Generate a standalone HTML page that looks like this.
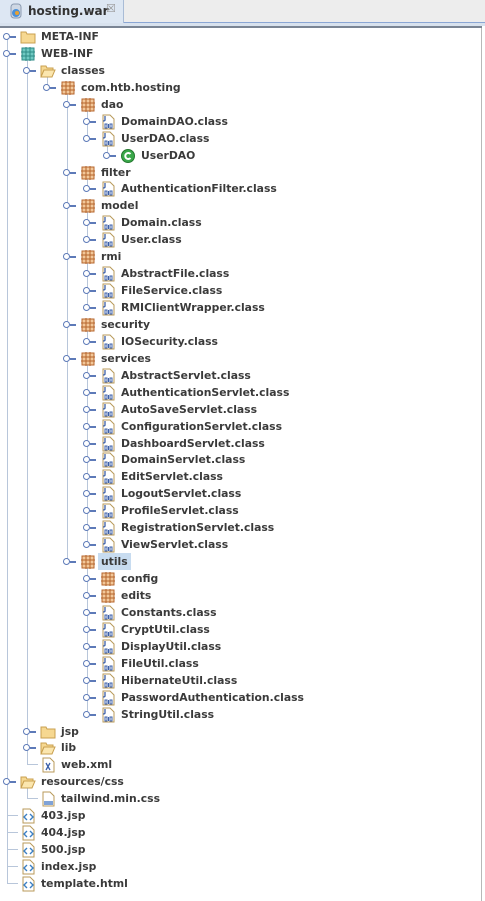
<!DOCTYPE html>
<html><head><meta charset="utf-8"><style>
body{margin:0;width:485px;height:901px;background:#fff;position:relative;overflow:hidden;font-family:"DejaVu Sans","Liberation Sans",sans-serif;}
.hdr{position:absolute;left:0;top:0;width:485px;height:22px;background:#ededed}
.tab{position:absolute;left:0;top:0;width:124px;height:23px;background:#dde7f3;border-right:1px solid #a9bcd6;box-sizing:border-box}
.tab span{position:absolute;left:28px;top:4px;font-size:12px;font-weight:bold;color:#333}
.r{position:absolute;height:17px;font-size:10.8px;font-weight:bold;color:#3a3a3a;line-height:17px;white-space:nowrap}
.r svg.i{position:absolute;left:0;top:1px;width:16px;height:16px}
.r b{position:absolute;left:21px;top:0;font-weight:bold}
.h{position:absolute;left:-17px;top:5px;width:5px;height:5px;border:1.5px solid #5d7ab8;border-radius:50%;background:#fff}
.h:after{content:"";position:absolute;left:6px;top:1.5px;width:6px;height:2px;background:#5d7ab8}
.c{position:absolute;left:-13px;top:8px;width:11px;height:1px;background:#b8c6da}
.v{position:absolute;width:1px;background:#b8c6da}
</style></head><body>
<svg width="0" height="0" style="position:absolute">
<defs>
<symbol id="fo" viewBox="0 0 16 16"><path d="M1 3h5l1 2h8v9H1z" fill="#f6d891" stroke="#c9a050"/></symbol>
<symbol id="fop" viewBox="0 0 16 16"><path d="M1 3h5l1 2h6v2H4L1 14z" fill="#f6d891" stroke="#c9a050"/><path d="M4 7h11l-3 7H1z" fill="#fbe6ae" stroke="#c9a050"/></symbol>
<symbol id="pk" viewBox="0 0 16 16"><rect x="2" y="2" width="12" height="12" fill="#f2c89a" stroke="#b5652c"/><path d="M6 1v14M10 1v14M1 6h14M1 10h14" stroke="#b5652c"/></symbol>
<symbol id="wi" viewBox="0 0 16 16"><rect x="2" y="2" width="12" height="12" fill="#6fc9c2" stroke="#2d8a85"/><path d="M6 1v14M10 1v14M1 6h14M1 10h14" stroke="#2d8a85"/></symbol>
<symbol id="cl" viewBox="0 0 16 16"><path d="M3 1h7l4 4v10H3z" fill="#fff" stroke="#b89a5a"/><path d="M5 2v4q0 1-2 1" stroke="#3b5fa8" fill="none" stroke-width="1.3"/><rect x="5" y="10" width="2" height="4" fill="none" stroke="#3b5fa8"/><rect x="8" y="10" width="1" height="4" fill="#3b5fa8"/><rect x="10" y="10" width="2" height="4" fill="none" stroke="#3b5fa8"/></symbol>
<symbol id="gc" viewBox="0 0 16 16"><circle cx="8" cy="8" r="6.5" fill="#3aa84a" stroke="#24792f"/><path d="M10.5 6a3 3 0 1 0 0 4" stroke="#fff" stroke-width="2" fill="none"/></symbol>
<symbol id="js" viewBox="0 0 16 16"><path d="M3 1h7l4 4v10H3z" fill="#fff" stroke="#b89a5a"/><path d="M7 6l-3 3 3 3M10 6l3 3-3 3" stroke="#3b7fc4" stroke-width="1.4" fill="none"/></symbol>
<symbol id="cs" viewBox="0 0 16 16"><path d="M3 1h7l4 4v10H3z" fill="#fff" stroke="#b89a5a"/><rect x="4" y="10" width="9" height="4" fill="#7fa2d6"/></symbol>
<symbol id="xm" viewBox="0 0 16 16"><path d="M3 1h7l4 4v10H3z" fill="#fff" stroke="#b89a5a"/><path d="M6 6l4 7M10 6l-4 7" stroke="#3b5fa8" stroke-width="1.3"/></symbol>
<symbol id="wa" viewBox="0 0 16 16"><rect x="3" y="1" width="10" height="14" rx="3" fill="#cfd8e4" stroke="#8a9ab0"/><circle cx="8" cy="10" r="4" fill="#4a90d8"/><circle cx="9" cy="10" r="2" fill="#e8a030"/></symbol>
</defs></svg>
<div class="hdr"></div>
<div style="position:absolute;left:0;top:22px;width:485px;height:1px;background:#8aa6d4"></div>
<div style="position:absolute;left:0;top:23px;width:485px;height:3px;background:#d8e2ee"></div>
<div style="position:absolute;left:0;top:26px;width:482px;height:2px;background:#7a8594"></div>
<div style="position:absolute;left:481px;top:28px;width:1px;height:873px;background:#b8b8b8"></div>
<div class="tab"><svg style="position:absolute;left:8px;top:3px;width:16px;height:16px"><use href="#wa"/></svg><span>hosting.war</span><span style="left:106px;top:2px;color:#999;font-weight:normal;font-size:11px">☒</span></div>

<div class="v" style="left:7px;top:36px;height:848px"></div>
<div class="v" style="left:27px;top:53px;height:712px"></div>
<div class="v" style="left:47px;top:70px;height:17px"></div>
<div class="v" style="left:67px;top:87px;height:474px"></div>
<div class="v" style="left:87px;top:104px;height:34px"></div>
<div class="v" style="left:107px;top:138px;height:17px"></div>
<div class="v" style="left:87px;top:172px;height:17px"></div>
<div class="v" style="left:87px;top:205px;height:34px"></div>
<div class="v" style="left:87px;top:256px;height:51px"></div>
<div class="v" style="left:87px;top:324px;height:17px"></div>
<div class="v" style="left:87px;top:358px;height:186px"></div>
<div class="v" style="left:87px;top:561px;height:153px"></div>
<div class="v" style="left:27px;top:781px;height:17px"></div>

<div class="r" style="top:28px;left:20px"><i class="h"></i><svg class="i"><use href="#fo"/></svg><b>META-INF</b></div>
<div class="r" style="top:45px;left:20px"><i class="h"></i><svg class="i"><use href="#wi"/></svg><b>WEB-INF</b></div>
<div class="r" style="top:62px;left:40px"><i class="h"></i><svg class="i"><use href="#fop"/></svg><b>classes</b></div>
<div class="r" style="top:79px;left:60px"><i class="h"></i><svg class="i"><use href="#pk"/></svg><b>com.htb.hosting</b></div>
<div class="r" style="top:96px;left:80px"><i class="h"></i><svg class="i"><use href="#pk"/></svg><b>dao</b></div>
<div class="r" style="top:113px;left:100px"><i class="h"></i><svg class="i"><use href="#cl"/></svg><b>DomainDAO.class</b></div>
<div class="r" style="top:130px;left:100px"><i class="h"></i><svg class="i"><use href="#cl"/></svg><b>UserDAO.class</b></div>
<div class="r" style="top:147px;left:120px"><i class="h"></i><svg class="i"><use href="#gc"/></svg><b>UserDAO</b></div>
<div class="r" style="top:164px;left:80px"><i class="h"></i><svg class="i"><use href="#pk"/></svg><b>filter</b></div>
<div class="r" style="top:180px;left:100px"><i class="h"></i><svg class="i"><use href="#cl"/></svg><b>AuthenticationFilter.class</b></div>
<div class="r" style="top:197px;left:80px"><i class="h"></i><svg class="i"><use href="#pk"/></svg><b>model</b></div>
<div class="r" style="top:214px;left:100px"><i class="h"></i><svg class="i"><use href="#cl"/></svg><b>Domain.class</b></div>
<div class="r" style="top:231px;left:100px"><i class="h"></i><svg class="i"><use href="#cl"/></svg><b>User.class</b></div>
<div class="r" style="top:248px;left:80px"><i class="h"></i><svg class="i"><use href="#pk"/></svg><b>rmi</b></div>
<div class="r" style="top:265px;left:100px"><i class="h"></i><svg class="i"><use href="#cl"/></svg><b>AbstractFile.class</b></div>
<div class="r" style="top:282px;left:100px"><i class="h"></i><svg class="i"><use href="#cl"/></svg><b>FileService.class</b></div>
<div class="r" style="top:299px;left:100px"><i class="h"></i><svg class="i"><use href="#cl"/></svg><b>RMIClientWrapper.class</b></div>
<div class="r" style="top:316px;left:80px"><i class="h"></i><svg class="i"><use href="#pk"/></svg><b>security</b></div>
<div class="r" style="top:333px;left:100px"><i class="h"></i><svg class="i"><use href="#cl"/></svg><b>IOSecurity.class</b></div>
<div class="r" style="top:350px;left:80px"><i class="h"></i><svg class="i"><use href="#pk"/></svg><b>services</b></div>
<div class="r" style="top:367px;left:100px"><i class="h"></i><svg class="i"><use href="#cl"/></svg><b>AbstractServlet.class</b></div>
<div class="r" style="top:384px;left:100px"><i class="h"></i><svg class="i"><use href="#cl"/></svg><b>AuthenticationServlet.class</b></div>
<div class="r" style="top:401px;left:100px"><i class="h"></i><svg class="i"><use href="#cl"/></svg><b>AutoSaveServlet.class</b></div>
<div class="r" style="top:418px;left:100px"><i class="h"></i><svg class="i"><use href="#cl"/></svg><b>ConfigurationServlet.class</b></div>
<div class="r" style="top:435px;left:100px"><i class="h"></i><svg class="i"><use href="#cl"/></svg><b>DashboardServlet.class</b></div>
<div class="r" style="top:451px;left:100px"><i class="h"></i><svg class="i"><use href="#cl"/></svg><b>DomainServlet.class</b></div>
<div class="r" style="top:468px;left:100px"><i class="h"></i><svg class="i"><use href="#cl"/></svg><b>EditServlet.class</b></div>
<div class="r" style="top:485px;left:100px"><i class="h"></i><svg class="i"><use href="#cl"/></svg><b>LogoutServlet.class</b></div>
<div class="r" style="top:502px;left:100px"><i class="h"></i><svg class="i"><use href="#cl"/></svg><b>ProfileServlet.class</b></div>
<div class="r" style="top:519px;left:100px"><i class="h"></i><svg class="i"><use href="#cl"/></svg><b>RegistrationServlet.class</b></div>
<div class="r" style="top:536px;left:100px"><i class="h"></i><svg class="i"><use href="#cl"/></svg><b>ViewServlet.class</b></div>
<div class="r" style="top:553px;left:80px"><i class="h"></i><svg class="i"><use href="#pk"/></svg><b style="background:#c8dcf0;padding:0 3px;left:18px">utils</b></div>
<div class="r" style="top:570px;left:100px"><i class="h"></i><svg class="i"><use href="#pk"/></svg><b>config</b></div>
<div class="r" style="top:587px;left:100px"><i class="h"></i><svg class="i"><use href="#pk"/></svg><b>edits</b></div>
<div class="r" style="top:604px;left:100px"><i class="h"></i><svg class="i"><use href="#cl"/></svg><b>Constants.class</b></div>
<div class="r" style="top:621px;left:100px"><i class="h"></i><svg class="i"><use href="#cl"/></svg><b>CryptUtil.class</b></div>
<div class="r" style="top:638px;left:100px"><i class="h"></i><svg class="i"><use href="#cl"/></svg><b>DisplayUtil.class</b></div>
<div class="r" style="top:655px;left:100px"><i class="h"></i><svg class="i"><use href="#cl"/></svg><b>FileUtil.class</b></div>
<div class="r" style="top:672px;left:100px"><i class="h"></i><svg class="i"><use href="#cl"/></svg><b>HibernateUtil.class</b></div>
<div class="r" style="top:689px;left:100px"><i class="h"></i><svg class="i"><use href="#cl"/></svg><b>PasswordAuthentication.class</b></div>
<div class="r" style="top:706px;left:100px"><i class="h"></i><svg class="i"><use href="#cl"/></svg><b>StringUtil.class</b></div>
<div class="r" style="top:723px;left:40px"><i class="h"></i><svg class="i"><use href="#fo"/></svg><b>jsp</b></div>
<div class="r" style="top:739px;left:40px"><i class="h"></i><svg class="i"><use href="#fop"/></svg><b>lib</b></div>
<div class="r" style="top:756px;left:40px"><i class="c"></i><svg class="i"><use href="#xm"/></svg><b>web.xml</b></div>
<div class="r" style="top:773px;left:20px"><i class="h"></i><svg class="i"><use href="#fop"/></svg><b>resources/css</b></div>
<div class="r" style="top:790px;left:40px"><i class="c"></i><svg class="i"><use href="#cs"/></svg><b>tailwind.min.css</b></div>
<div class="r" style="top:807px;left:20px"><i class="c"></i><svg class="i"><use href="#js"/></svg><b>403.jsp</b></div>
<div class="r" style="top:824px;left:20px"><i class="c"></i><svg class="i"><use href="#js"/></svg><b>404.jsp</b></div>
<div class="r" style="top:841px;left:20px"><i class="c"></i><svg class="i"><use href="#js"/></svg><b>500.jsp</b></div>
<div class="r" style="top:858px;left:20px"><i class="c"></i><svg class="i"><use href="#js"/></svg><b>index.jsp</b></div>
<div class="r" style="top:875px;left:20px"><i class="c"></i><svg class="i"><use href="#js"/></svg><b>template.html</b></div>
</body></html>
